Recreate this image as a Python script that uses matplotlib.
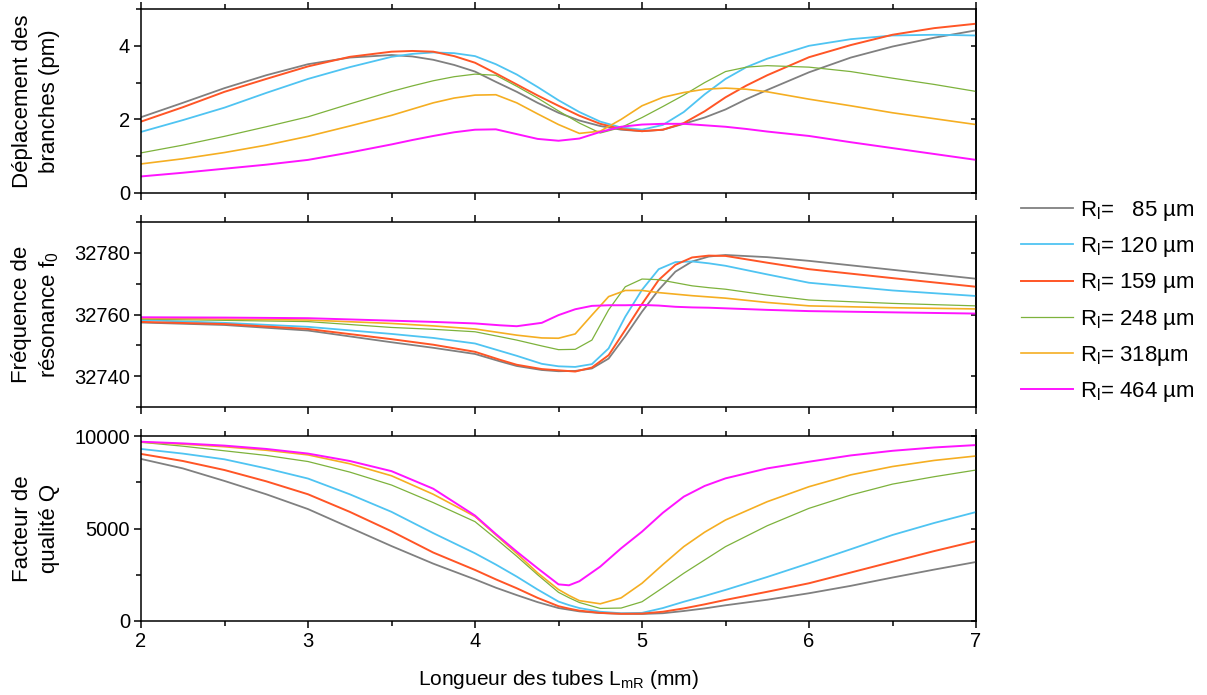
import numpy as np
import matplotlib.pyplot as plt
from matplotlib.ticker import MultipleLocator

plt.rcParams['font.family'] = ['Liberation Sans', 'DejaVu Sans']
plt.rcParams['mathtext.fontset'] = 'custom'
plt.rcParams['mathtext.rm'] = 'Liberation Sans'

# legende
labels = ['R$_\\mathregular{l}$=   85 µm', 'R$_\\mathregular{l}$= 120 µm', 'R$_\\mathregular{l}$= 159 µm',
          'R$_\\mathregular{l}$= 248 µm', 'R$_\\mathregular{l}$= 318µm', 'R$_\\mathregular{l}$= 464 µm']
farben = ['#808080', '#4fc4f2', '#ff5526', '#7db23c', '#f5ae22', '#ff14ff']
breiten = [1.3, 1.3, 1.4, 0.9, 1.2, 1.4]

# Deplacement des branches (pm)
x_dep = [2.0, 2.25, 2.5, 2.75, 3.0, 3.25, 3.5, 3.625, 3.75, 3.875, 4.0, 4.125, 4.25, 4.375,
         4.5, 4.625, 4.75, 4.875, 5.0, 5.125, 5.25, 5.375, 5.5, 5.625, 5.75, 6.0, 6.25, 6.5,
         6.75, 7.0]
dep_85 = [2.06, 2.45, 2.85, 3.20, 3.50, 3.68, 3.75, 3.71, 3.62, 3.48, 3.30, 3.02, 2.75, 2.45,
          2.18, 1.97, 1.82, 1.72, 1.68, 1.72, 1.88, 2.05, 2.27, 2.55, 2.80, 3.28, 3.68, 3.98,
          4.22, 4.42]
dep_120 = [1.66, 1.98, 2.32, 2.72, 3.10, 3.42, 3.70, 3.78, 3.82, 3.80, 3.72, 3.50, 3.22, 2.88,
           2.52, 2.20, 1.94, 1.78, 1.72, 1.85, 2.20, 2.68, 3.10, 3.42, 3.65, 4.00, 4.18, 4.28,
           4.30, 4.28]
dep_159 = [1.94, 2.33, 2.75, 3.10, 3.44, 3.70, 3.84, 3.86, 3.84, 3.72, 3.54, 3.25, 2.95, 2.65,
           2.37, 2.10, 1.88, 1.74, 1.68, 1.72, 1.90, 2.22, 2.60, 2.92, 3.20, 3.69, 4.02, 4.30,
           4.48, 4.60]
dep_248 = [1.09, 1.30, 1.54, 1.80, 2.07, 2.42, 2.76, 2.91, 3.05, 3.16, 3.23, 3.20, 2.90, 2.58,
           2.23, 1.90, 1.63, 1.78, 2.05, 2.35, 2.66, 3.00, 3.30, 3.42, 3.46, 3.42, 3.30, 3.12,
           2.95, 2.76]
dep_318 = [0.79, 0.93, 1.10, 1.30, 1.54, 1.82, 2.11, 2.28, 2.45, 2.58, 2.66, 2.67, 2.45, 2.15,
           1.86, 1.62, 1.68, 2.00, 2.37, 2.60, 2.73, 2.82, 2.85, 2.82, 2.75, 2.55, 2.37, 2.18,
           2.02, 1.86]
dep_464 = [0.45, 0.55, 0.66, 0.77, 0.90, 1.10, 1.32, 1.44, 1.55, 1.65, 1.72, 1.73, 1.60, 1.47,
           1.42, 1.48, 1.66, 1.80, 1.86, 1.88, 1.88, 1.84, 1.80, 1.74, 1.67, 1.55, 1.38, 1.22,
           1.06, 0.90]

# Frequence de resonance f0
x_freq = [2.0, 2.5, 3.0, 3.5, 3.75, 4.0, 4.15, 4.25, 4.4, 4.5, 4.6, 4.7, 4.8, 4.9, 5.0, 5.1,
          5.2, 5.3, 5.4, 5.5, 5.75, 6.0, 6.5, 7.0]
freq_85 = [32757.4, 32756.6, 32754.8, 32751.0, 32749.2, 32747.2, 32744.8, 32743.3, 32742.0,
           32741.6, 32741.7, 32742.5, 32745.7, 32753.0, 32760.9, 32768.0, 32773.9, 32777.2,
           32778.8, 32779.3, 32778.6, 32777.4, 32774.5, 32771.6]
freq_120 = [32758.2, 32757.3, 32756.0, 32753.7, 32752.4, 32750.6, 32748.2, 32746.6, 32744.0,
            32743.2, 32743.0, 32743.9, 32749.0, 32759.3, 32768.0, 32774.7, 32777.0, 32777.2,
            32776.6, 32775.8, 32773.0, 32770.3, 32767.8, 32766.0]
freq_159 = [32757.6, 32756.9, 32755.3, 32752.0, 32750.2, 32747.9, 32745.3, 32743.7, 32742.3,
            32741.9, 32741.5, 32742.8, 32746.8, 32755.0, 32763.4, 32771.2, 32776.1, 32778.5,
            32779.1, 32779.0, 32776.8, 32774.7, 32771.8, 32769.0]
freq_248 = [32758.5, 32758.1, 32757.7, 32755.8, 32755.2, 32754.4, 32752.8, 32751.7, 32749.8,
            32748.6, 32748.7, 32751.7, 32761.5, 32769.0, 32771.5, 32771.3, 32770.3, 32769.3,
            32768.7, 32768.2, 32766.3, 32764.7, 32763.6, 32762.8]
freq_318 = [32758.8, 32758.5, 32758.2, 32757.1, 32756.3, 32755.3, 32754.1, 32753.3, 32752.4,
            32752.3, 32753.7, 32759.8, 32765.8, 32767.8, 32767.8, 32767.1, 32766.6, 32766.1,
            32765.7, 32765.3, 32763.9, 32762.8, 32762.2, 32761.8]
freq_464 = [32759.1, 32759.0, 32758.8, 32758.0, 32757.6, 32757.1, 32756.5, 32756.2, 32757.3,
            32759.8, 32761.7, 32762.8, 32763.0, 32763.0, 32763.1, 32762.9, 32762.5, 32762.3,
            32762.2, 32762.0, 32761.5, 32761.1, 32760.7, 32760.3]

# Facteur de qualite Q
x_q = [2.0, 2.25, 2.5, 2.75, 3.0, 3.25, 3.5, 3.75, 4.0, 4.125, 4.25, 4.375, 4.5, 4.5625, 4.625,
       4.75, 4.875, 5.0, 5.125, 5.25, 5.375, 5.5, 5.75, 6.0, 6.25, 6.5, 6.75, 7.0]
q_85 = [8760, 8250, 7570, 6850, 6050, 5050, 4050, 3100, 2250, 1800, 1400, 1020, 700, 610, 520,
        430, 390, 380, 420, 540, 680, 850, 1150, 1500, 1900, 2350, 2780, 3190]
q_120 = [9300, 9050, 8740, 8250, 7700, 6850, 5900, 4750, 3660, 3050, 2400, 1700, 1050, 860, 700,
         500, 420, 440, 700, 1040, 1350, 1680, 2380, 3120, 3880, 4650, 5300, 5890]
q_159 = [9030, 8650, 8160, 7550, 6850, 5900, 4850, 3700, 2760, 2250, 1770, 1250, 800, 670, 560,
         440, 390, 400, 500, 680, 900, 1140, 1580, 2040, 2620, 3200, 3780, 4320]
q_248 = [9660, 9450, 9200, 8950, 8620, 8050, 7350, 6400, 5370, 4450, 3500, 2500, 1550, 1260,
         1000, 680, 700, 1040, 1800, 2580, 3300, 4020, 5150, 6090, 6810, 7400, 7800, 8160]
q_318 = [9670, 9560, 9420, 9230, 8980, 8500, 7850, 6850, 5650, 4650, 3650, 2600, 1700, 1380,
         1100, 930, 1250, 2040, 3050, 4020, 4800, 5460, 6450, 7260, 7900, 8350, 8680, 8920]
q_464 = [9690, 9600, 9480, 9300, 9050, 8650, 8100, 7150, 5700, 4700, 3750, 2850, 1980, 1930,
         2150, 2940, 3930, 4830, 5850, 6720, 7300, 7710, 8250, 8610, 8950, 9200, 9380, 9510]

dep = [dep_85, dep_120, dep_159, dep_248, dep_318, dep_464]
freq = [freq_85, freq_120, freq_159, freq_248, freq_318, freq_464]
qual = [q_85, q_120, q_159, q_248, q_318, q_464]

fig = plt.figure(figsize=(12.07, 6.95), dpi=100)
links, breite = 141 / 1207, 835 / 1207
ax1 = fig.add_axes([links, 1 - 193 / 695, breite, 184 / 695])
ax2 = fig.add_axes([links, 1 - 407 / 695, breite, 185 / 695])
ax3 = fig.add_axes([links, 1 - 621 / 695, breite, 185 / 695])

linien = []
for i in range(6):
    l, = ax1.plot(x_dep, dep[i], color=farben[i], lw=breiten[i], label=labels[i])
    linien.append(l)
    ax2.plot(x_freq, freq[i], color=farben[i], lw=breiten[i])
    ax3.plot(x_q, qual[i], color=farben[i], lw=breiten[i])

ax1.set_ylim(0, 5)
ax1.yaxis.set_major_locator(MultipleLocator(2))
ax1.yaxis.set_minor_locator(MultipleLocator(1))
ax2.set_ylim(32730, 32790)
ax2.yaxis.set_major_locator(MultipleLocator(20))
ax2.yaxis.set_minor_locator(MultipleLocator(10))
ax3.set_ylim(0, 10000)
ax3.yaxis.set_major_locator(MultipleLocator(5000))
ax3.yaxis.set_minor_locator(MultipleLocator(2500))

for ax in (ax1, ax2, ax3):
    ax.set_xlim(2, 7)
    ax.xaxis.set_major_locator(MultipleLocator(1))
    ax.xaxis.set_minor_locator(MultipleLocator(0.5))
    ax.tick_params(which='both', direction='out', top=True, width=1.1, labelsize=14.5)
    ax.tick_params(which='major', length=5, pad=3)
    ax.tick_params(which='minor', length=3.5)
    for s in ax.spines.values():
        s.set_linewidth(1.1)
    rechts = ax.secondary_yaxis('right')
    rechts.set_yticks(ax.get_yticks(minor=True))
    rechts.set_yticks(ax.get_yticks(), minor=False)
    rechts.tick_params(which='both', direction='in', labelright=False, length=3.5, width=1.1)
    rechts.spines['right'].set_linewidth(1.1)
for ax in (ax1, ax2):
    ax.tick_params(labelbottom=False)

ax3.set_xlabel('Longueur des tubes L$_\\mathregular{mR}$ (mm)', fontsize=15, labelpad=12)

ylabels = ['Déplacement des\nbranches (pm)', 'Fréquence de\nrésonance f$_\\mathregular{0}$',
           'Facteur de\nqualité Q']
for ax, t in zip((ax1, ax2, ax3), ylabels):
    pos = ax.get_position()
    fig.text(36 / 1207, pos.y0 + pos.height / 2, t, rotation=90, ha='center', va='center',
             multialignment='center', fontsize=16, linespacing=1.35)

fig.legend(handles=linien, loc='upper left', bbox_to_anchor=(1021 / 1207, 1 - 199 / 695),
           frameon=False, fontsize=16, handlelength=2.35, handletextpad=0.3,
           labelspacing=0.55, borderpad=0, borderaxespad=0)

fig.savefig('out.png', dpi=100)
